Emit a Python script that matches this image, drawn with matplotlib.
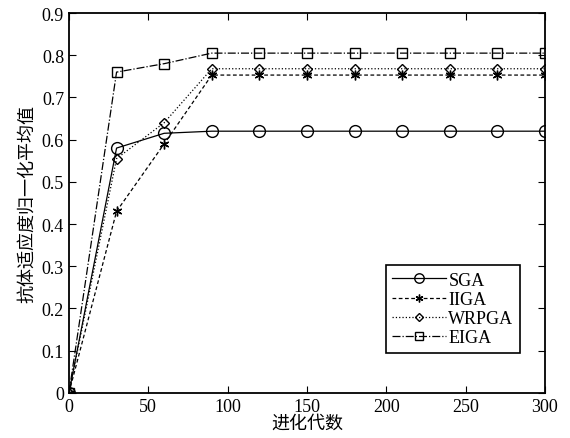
import matplotlib.pyplot as plt

plt.rcParams['font.family'] = ['Liberation Serif', 'Noto Sans CJK SC']

gens = [0, 30, 60, 90, 120, 150, 180, 210, 240, 270, 300]
sga = [0, 0.58, 0.615, 0.62, 0.62, 0.62, 0.62, 0.62, 0.62, 0.62, 0.62]
iiga = [0, 0.43, 0.59, 0.753, 0.753, 0.753, 0.753, 0.753, 0.753, 0.753, 0.753]
wrpga = [0, 0.555, 0.64, 0.768, 0.768, 0.768, 0.768, 0.768, 0.768, 0.768, 0.768]
eiga = [0, 0.76, 0.78, 0.805, 0.805, 0.805, 0.805, 0.805, 0.805, 0.805, 0.805]

xticks = [0, 50, 100, 150, 200, 250, 300]
yticks = [0, 0.1, 0.2, 0.3, 0.4, 0.5, 0.6, 0.7, 0.8, 0.9]
ylabels = ['0', '0.1', '0.2', '0.3', '0.4', '0.5', '0.6', '0.7', '0.8', '0.9']

fig = plt.figure(figsize=(5.7, 4.39), dpi=100)
ax = fig.add_axes([0.121, 0.103, 0.835, 0.865])

mk = dict(color='black', markerfacecolor='none', markeredgecolor='black', lw=0.9)
ax.plot(gens, sga, '-', marker='o', ms=8.5, label='SGA', **mk)
ax.plot(gens, iiga, '--', marker=(6, 2, 0), ms=7, label='IIGA', dashes=(3, 2), **mk)
ax.plot(gens, wrpga, ':', marker='D', ms=5.5, label='WRPGA', **mk)
ax.plot(gens, eiga, '-.', marker='s', ms=6.5, label='EIGA', **mk)

ax.set_xlim(0, 300)
ax.set_ylim(0, 0.9)
ax.set_xticks(xticks)
ax.set_yticks(yticks)
ax.set_yticklabels(ylabels)
ax.tick_params(direction='in', top=True, right=True, labelsize=13, length=5)
for s in ax.spines.values():
    s.set_linewidth(1.3)

ax.set_xlabel('进化代数', fontsize=13, labelpad=0)
ax.set_ylabel('抗体适应度归一化平均值', fontsize=13, labelpad=4)

leg = ax.legend(loc='lower right', bbox_to_anchor=(0.947, 0.106), fontsize=13,
                fancybox=False, edgecolor='black', framealpha=1,
                handlelength=3.0, handletextpad=0.1, borderpad=0.35,
                labelspacing=0.12, borderaxespad=0, markerscale=0.8)
leg.get_frame().set_linewidth(1.2)

fig.savefig('out.png', dpi=100)
